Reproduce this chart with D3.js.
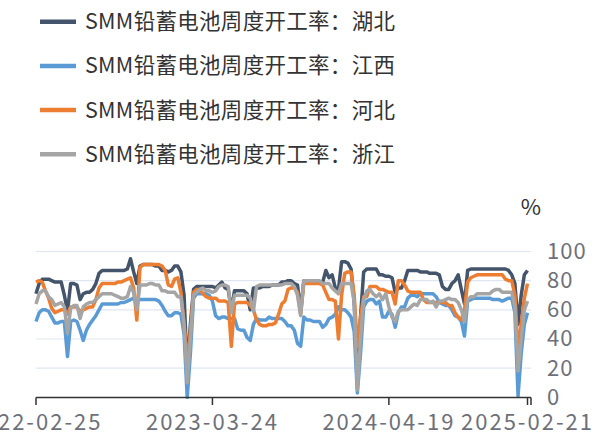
<!DOCTYPE html>
<html><head><meta charset="utf-8">
<script src="https://cdn.jsdelivr.net/npm/d3@7"></script>
<style>html,body{margin:0;padding:0;background:#fff;}svg{display:block;}</style>
</head><body>
<svg id="chart" width="595" height="434"></svg>
<script>
const seriesNames = ["SMM铅蓄电池周度开工率：湖北","SMM铅蓄电池周度开工率：江西","SMM铅蓄电池周度开工率：河北","SMM铅蓄电池周度开工率：浙江"];
const seriesColors = ["#44546A","#5B9BD5","#ED7D31","#A5A5A5"];
const startDate = "2022-02-25";
const tickLabels = ["2022-02-25","2023-03-24","2024-04-19","2025-02-21"];
const yTicks = [0,20,40,60,80,100];
const unitLabel = "%";

const hubei = [71,78,81,81,81,80,79,79,79,70,59,78,78,77,67,71,72,72,74,78,
85,87,87,87,87,87,87,87,87,88,95,86,78,90,91,91,91,91,90,90,
87,87,86,87,90,90,86,70,18,50,74,76,76,76,76,76,76,75,77,79,
75,74,60,73,73,73,73,71,60,75,75,75,76,76,76,77,77,77,79,79,
80,80,78,77,59,80,80,80,80,79,79,79,87,82,84,75,74,93,93,92,
88,65,10,55,86,88,88,88,88,84,84,83,83,82,72,75,75,80,87,87,
87,87,86,86,86,85,85,85,84,76,74,74,78,80,84,74,64,87,88,88,
88,88,88,88,88,88,88,88,88,88,87,84,78,50,70,84,87];
const jiangxi = [52,58,60,60,59,55,51,51,52,52,28,52,53,52,46,39,46,50,53,56,
60,64,64,64,64,64,64,65,65,66,67,68,66,67,67,67,67,67,67,66,
63,59,56,56,58,58,57,43,0,30,68,71,71,71,71,70,66,56,54,55,
55,54,54,54,47,46,46,41,39,50,54,53,53,53,55,54,54,54,54,52,
49,49,46,37,35,55,53,53,52,52,52,48,50,54,55,57,62,60,60,58,
55,45,3,30,62,66,67,67,64,66,55,55,59,57,48,58,62,62,68,70,
70,69,71,71,71,71,71,69,65,64,63,63,60,56,55,52,42,66,67,68,
68,68,68,68,68,67,67,67,66,67,68,68,58,1,30,50,58];
const hebei = [79,80,79,73,68,61,58,59,60,60,57,62,62,62,59,60,61,62,62,67,
75,78,78,78,78,78,79,79,80,81,82,75,53,89,91,91,91,91,91,91,
90,87,77,76,81,82,72,50,22,45,72,74,74,71,69,68,68,68,66,66,
66,65,35,64,65,65,65,65,63,60,53,50,49,49,50,50,51,57,64,66,
74,75,75,72,57,78,78,78,78,78,78,77,72,67,67,66,40,70,85,86,
86,70,35,55,69,69,76,76,76,74,74,73,72,72,64,80,80,77,73,72,
72,72,72,67,65,65,65,65,65,65,65,63,63,58,55,53,60,79,82,83,
84,84,84,84,84,84,84,84,84,81,80,80,70,32,50,68,78];
const zhejiang = [64,71,73,73,69,67,63,64,65,62,44,61,63,63,54,62,64,65,65,67,
69,71,71,71,71,70,69,68,68,69,76,72,60,77,77,77,78,78,77,77,
73,73,72,72,72,69,69,50,10,40,70,72,74,75,73,73,72,73,76,77,
77,76,58,70,70,70,70,70,68,59,76,77,77,77,77,77,77,77,77,78,
78,78,76,70,56,80,80,80,80,80,80,78,78,78,75,73,71,78,78,78,
78,65,5,40,67,73,74,71,69,71,67,71,62,55,52,59,60,60,60,62,
64,63,67,67,67,65,66,62,66,66,67,68,67,67,65,60,52,67,69,69,
71,71,71,71,71,73,74,74,72,72,72,72,62,18,40,60,66];
const seriesValues = [hubei, jiangxi, hebei, zhejiang];

const parse = d3.timeParse("%Y-%m-%d");
const fmt = d3.timeFormat("%Y-%m-%d");
const start = parse(startDate);
const dates = hubei.map((_, i) => d3.timeWeek.offset(start, i));

const svg = d3.select("#chart");
const FONT = "'Noto Sans CJK SC','Noto Sans',sans-serif";

const x = d3.scaleTime().domain([dates[0], dates[dates.length-1]]).range([36, 527.5]);
const y = d3.scaleLinear().domain([0,100]).range([397.3, 251.5]);
const axisEnd = 531;

// grid
svg.append("g").selectAll("line").data(yTicks.filter(d => d > 0)).join("line")
  .attr("x1", 36).attr("x2", axisEnd)
  .attr("y1", d => y(d)).attr("y2", d => y(d))
  .attr("stroke", "#E0E6F1").attr("stroke-width", 1.2);

// y labels (right)
svg.append("g").selectAll("text").data(yTicks).join("text")
  .attr("x", 547).attr("y", d => y(d) + 7.5)
  .attr("font-family", FONT).attr("font-size", 22).attr("letter-spacing", 1)
  .attr("fill", "#6E7079")
  .text(d => d);

svg.append("text").attr("x", 531).attr("y", 215).attr("text-anchor", "middle")
  .attr("font-family", FONT).attr("font-size", 22).attr("fill", "#333")
  .text(unitLabel);

// lines
const line = d3.line().x((d, i) => x(dates[i])).y(d => y(d)).curve(d3.curveLinear);
svg.append("g").selectAll("path").data(seriesValues).join("path")
  .attr("d", d => line(d))
  .attr("fill", "none")
  .attr("stroke", (d, i) => seriesColors[i])
  .attr("stroke-width", 3.5)
  .attr("stroke-linejoin", "round");

// x axis
const tickDates = tickLabels.map(parse);
const xa = svg.append("g");
xa.append("line").attr("x1", 36).attr("x2", axisEnd).attr("y1", 397.5).attr("y2", 397.5)
  .attr("stroke", "#333").attr("stroke-width", 1.5);
xa.selectAll("line.tick").data(tickDates).join("line").attr("class", "tick")
  .attr("x1", d => x(d)).attr("x2", d => x(d)).attr("y1", 397.5).attr("y2", 405)
  .attr("stroke", "#333").attr("stroke-width", 1.5);
xa.append("line").attr("x1", axisEnd).attr("x2", axisEnd).attr("y1", 397.5).attr("y2", 405)
  .attr("stroke", "#333").attr("stroke-width", 1.5);
xa.selectAll("text").data(tickDates).join("text")
  .attr("x", d => x(d)).attr("y", 430).attr("text-anchor", "middle")
  .attr("font-family", FONT).attr("font-size", 22).attr("letter-spacing", 2)
  .attr("fill", "#6E7079")
  .text(d => fmt(d));

// legend
const lg = svg.append("g").selectAll("g").data(seriesNames).join("g")
  .attr("transform", (d, i) => `translate(0, ${21.7 + i * 44.2})`);
lg.append("line").attr("x1", 40).attr("x2", 76).attr("y1", 0).attr("y2", 0)
  .attr("stroke", (d, i) => seriesColors[i]).attr("stroke-width", 4.5);
lg.append("text").attr("x", 85).attr("y", 7.5)
  .attr("font-family", FONT).attr("font-size", 21.5).attr("letter-spacing", 0.3)
  .attr("fill", "#333")
  .text(d => d);
</script>
</body></html>
